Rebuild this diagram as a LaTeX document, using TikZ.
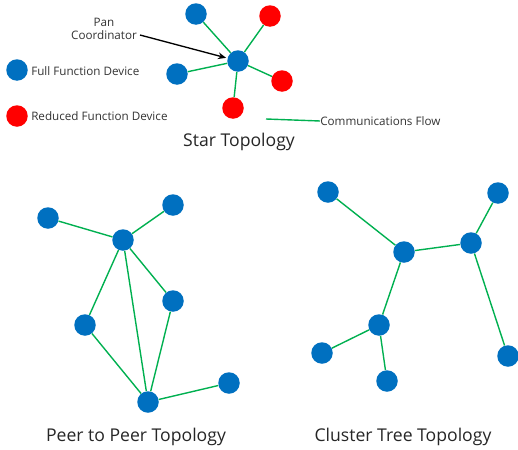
\documentclass[tikz,border=0pt]{standalone}
\usepackage{fontspec}
\setmainfont{Open Sans}
\usetikzlibrary{arrows.meta}
\definecolor{devblue}{HTML}{0070C0}
\definecolor{devred}{HTML}{FF0000}
\definecolor{linkgreen}{HTML}{00B050}
\tikzset{
  ffd/.style={circle,fill=devblue,minimum size=21.5*0.75pt,inner sep=0pt},
  rfd/.style={circle,fill=devred,minimum size=21.5*0.75pt,inner sep=0pt},
  link/.style={draw=linkgreen,line width=1.05pt},
  small/.style={font=\fontsize{8.75}{10}\selectfont,text=black!80},
  title/.style={font=\fontsize{13.2}{15}\selectfont,text=black!85},
}
\begin{document}
\begin{tikzpicture}[x=0.75pt,y=-0.75pt]
\useasboundingbox (0,0) rectangle (518,450);
% Star topology
\node[ffd] (s0) at (238,61) {};
\node[ffd] (s1) at (196,14) {};
\node[rfd] (s2) at (270,16) {};
\node[ffd] (s3) at (177,74) {};
\node[rfd] (s4) at (282,81) {};
\node[rfd] (s5) at (233,108) {};
\foreach \n in {s1,s2,s3,s4,s5} \draw[link] (s0) -- (\n);
\node[ffd] (lf) at (17,70) {};
\node[rfd] (lr) at (17,116) {};
\node[small,anchor=west,inner sep=0pt] (tf) at (31,71) {Full Function Device};
\node[small,anchor=west,inner sep=0pt] (tr) at (31,116) {Reduced Function Device};
\node[small,align=center,inner sep=1pt] (pan) at (104,29) {Pan\\Coordinator};
\coordinate (panarr) at (140,35);
\draw[-{Stealth[length=6pt,width=5pt]},line width=1pt,shorten >=1pt] (panarr) -- (s0);
\coordinate (cf1) at (266,119);
\node[small,anchor=west,inner sep=0pt] (cft) at (320,121) {Communications Flow};
\draw[link] (cf1) -- (cft.west);
\node[title] (st) at (239,142) {Star Topology};
% Peer to peer
\node[ffd] (pa) at (48,218) {};
\node[ffd] (pb) at (173,205) {};
\node[ffd] (pc) at (123,240) {};
\node[ffd] (pd) at (173,301) {};
\node[ffd] (pe) at (85,325) {};
\node[ffd] (pf) at (148,402) {};
\node[ffd] (pg) at (229,383) {};
\draw[link] (pa) -- (pc) (pb) -- (pc) (pc) -- (pe) (pc) -- (pf) (pc) -- (pd)
  (pd) -- (pf) (pe) -- (pf) (pf) -- (pg);
\node[title] (pt) at (136,437) {Peer to Peer Topology};
% Cluster tree
\node[ffd] (ca) at (328,192) {};
\node[ffd] (cb) at (498,193) {};
\node[ffd] (cc) at (404,252) {};
\node[ffd] (cd) at (471,243) {};
\node[ffd] (ce) at (379,325) {};
\node[ffd] (cf) at (322,353) {};
\node[ffd] (cg) at (387,381) {};
\node[ffd] (ch) at (508,356) {};
\draw[link] (ca) -- (cc) (cc) -- (cd) (cd) -- (cb) (cd) -- (ch)
  (cc) -- (ce) (ce) -- (cf) (ce) -- (cg);
\node[title] (ctt) at (403,437) {Cluster Tree Topology};
\end{tikzpicture}
\end{document}
